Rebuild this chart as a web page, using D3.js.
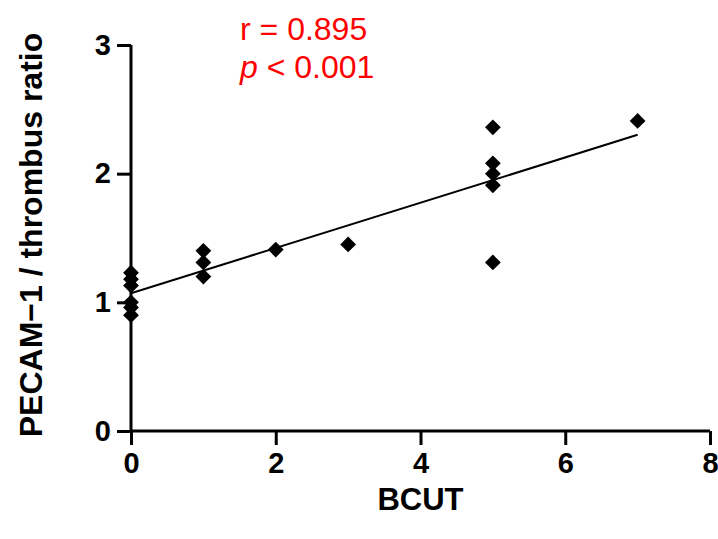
<!DOCTYPE html>
<html>
<head>
<meta charset="utf-8">
<script src="https://cdn.jsdelivr.net/npm/d3@7"></script>
<style>
  body { margin: 0; background: #fff; }
  svg { display: block; font-family: "Liberation Sans", Arial, sans-serif; }
</style>
</head>
<body>
<script>
// BCUT score per sample and the PECAM-1 / thrombus ratio
var bcut  = [0, 0, 0, 0, 0, 0, 1, 1, 1, 2, 3, 5, 5, 5, 5, 5, 7];
var ratio = [1.23, 1.18, 1.13, 1.00, 0.96, 0.90, 1.40, 1.31, 1.20, 1.41, 1.45, 2.36, 2.08, 2.00, 1.91, 1.31, 2.41];
var xTicks = [0, 2, 4, 6, 8];
var yTicks = [0, 1, 2, 3];
var statLines = ["r = 0.895", "p < 0.001"];

var width = 718, height = 539;
var margin = {top: 45, right: 8, bottom: 108, left: 131};

var svg = d3.select("body").append("svg")
    .attr("width", width)
    .attr("height", height);

var x = d3.scaleLinear().domain([0, 8]).range([margin.left, width - margin.right]);
var y = d3.scaleLinear().domain([0, 3]).range([height - margin.bottom, margin.top]);

// axes
var xAxis = svg.append("g")
    .attr("transform", "translate(0," + y(0) + ")")
    .call(d3.axisBottom(x).tickValues(xTicks).tickSize(14).tickPadding(7).tickFormat(d3.format("d")));
var yAxis = svg.append("g")
    .attr("transform", "translate(" + x(0) + ",0)")
    .call(d3.axisLeft(y).tickValues(yTicks).tickSize(14).tickPadding(6).tickFormat(d3.format("d")));

[xAxis, yAxis].forEach(function(a) {
  a.select(".domain").attr("stroke", "#000").attr("stroke-width", 3);
  a.selectAll(".tick line").attr("stroke", "#000").attr("stroke-width", 3);
  a.selectAll(".tick text")
      .attr("fill", "#000")
      .style("font-size", "29px")
      .style("font-weight", "bold");
});
// drop the outer tick stubs at the domain ends
xAxis.select(".domain").attr("d", "M" + x(0) + ",0H" + x(8));
yAxis.select(".domain").attr("d", "M0," + y(0) + "V" + y(3));

// least squares fit
var mx = d3.mean(bcut), my = d3.mean(ratio);
var sxy = d3.sum(bcut, function(v, i) { return (v - mx) * (ratio[i] - my); });
var sxx = d3.sum(bcut, function(v) { return (v - mx) * (v - mx); });
var slope = sxy / sxx, intercept = my - slope * mx;
var xMax = d3.max(bcut);

svg.append("line")
    .attr("x1", x(0)).attr("y1", y(intercept))
    .attr("x2", x(xMax)).attr("y2", y(intercept + slope * xMax))
    .attr("stroke", "#000")
    .attr("stroke-width", 2);

// diamond markers
var diamond = d3.symbol().type(d3.symbolSquare).size(125);
svg.append("g").selectAll("path")
    .data(bcut)
  .enter().append("path")
    .attr("d", diamond)
    .attr("transform", function(d, i) {
      return "translate(" + x(d) + "," + y(ratio[i]) + ") rotate(45)";
    })
    .attr("fill", "#000");

// axis titles
svg.append("text")
    .attr("x", x(4))
    .attr("y", 510)
    .attr("text-anchor", "middle")
    .style("font-size", "31px")
    .style("font-weight", "bold")
    .text("BCUT");

svg.append("text")
    .attr("transform", "translate(42,235) rotate(-90)")
    .attr("text-anchor", "middle")
    .style("font-size", "32px")
    .style("font-weight", "bold")
    .text("PECAM\u22121 / thrombus ratio");

// stats
svg.append("text")
    .attr("x", 240).attr("y", 40)
    .attr("fill", "#ff0000")
    .style("font-size", "32px")
    .text(statLines[0]);

var p = svg.append("text")
    .attr("x", 240).attr("y", 78)
    .attr("fill", "#ff0000")
    .style("font-size", "32px");
p.append("tspan").style("font-style", "italic").text(statLines[1].slice(0, 1));
p.append("tspan").text(statLines[1].slice(1));
</script>
</body>
</html>
